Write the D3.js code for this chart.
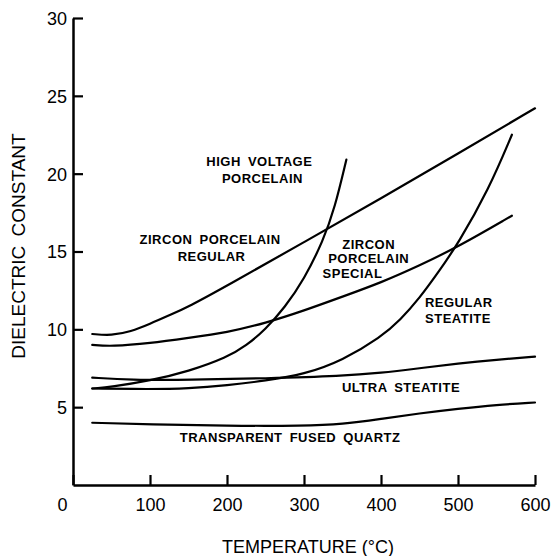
<!DOCTYPE html>
<html>
<head>
<meta charset="utf-8">
<script src="https://cdn.jsdelivr.net/npm/d3@7"></script>
<style>
  body { margin: 0; background: #fff; }
  svg { display: block; }
</style>
</head>
<body>
<svg id="chart" width="554" height="556"></svg>
<script>
// ---- data (temperature °C, dielectric constant) ----
const zirconRegular = [[25,9.7],[50,9.6],[75,9.85],[100,10.35],[125,10.9],[150,11.45],[200,12.8],[300,15.6],[400,18.4],[500,21.3],[600,24.2]];
const zirconSpecial = [[25,9.0],[50,8.9],[100,9.1],[150,9.45],[200,9.8],[250,10.4],[300,11.2],[350,12.1],[400,13.0],[450,14.1],[500,15.3],[570,17.3]];
const highVoltage   = [[25,6.2],[50,6.3],[100,6.7],[150,7.3],[200,8.2],[225,8.95],[250,10.0],[275,11.4],[300,13.2],[325,15.7],[340,17.8],[355,20.9]];
const regularSteatite = [[25,6.2],[100,6.15],[150,6.2],[200,6.4],[250,6.7],[300,7.1],[350,8.0],[400,9.5],[425,10.6],[450,12.0],[475,13.7],[500,15.5],[540,19.0],[570,22.5]];
const ultraSteatite = [[25,6.9],[75,6.75],[150,6.75],[250,6.85],[350,7.0],[400,7.2],[450,7.5],[500,7.8],[550,8.05],[600,8.25]];
const fusedQuartz   = [[25,4.0],[100,3.9],[200,3.8],[300,3.8],[350,3.9],[400,4.25],[450,4.6],[500,4.9],[550,5.15],[600,5.3]];
const seriesList = [zirconRegular, zirconSpecial, highVoltage, regularSteatite, ultraSteatite, fusedQuartz];

const xTicks = [0,100,200,300,400,500,600];
const yTicks = [5,10,15,20,25,30];
const xTitle = "TEMPERATURE (°C)";
const yTitle = "DIELECTRIC CONSTANT";

// curve labels: text and anchor in data coordinates
const labelTexts = ["HIGH VOLTAGE","PORCELAIN","ZIRCON PORCELAIN","REGULAR","ZIRCON","PORCELAIN","SPECIAL","REGULAR","STEATITE","ULTRA STEATITE","TRANSPARENT FUSED QUARTZ"];
const labelT = [242,246,178,180,384,384,363,501,500,426,282];
const labelV = [20.49,19.4,15.48,14.39,15.16,14.26,13.3,11.43,10.4,5.97,2.76];

// ---- drawing ----
const svg = d3.select("#chart");
const x = d3.scaleLinear().domain([0,600]).range([73,535]);
const y = d3.scaleLinear().domain([0,30]).range([485,18]);

const line = d3.line().x(d => x(d[0])).y(d => y(d[1])).curve(d3.curveBasis);

svg.append("g").selectAll("path").data(seriesList).join("path")
  .attr("d", line)
  .attr("fill","none")
  .attr("stroke","#000")
  .attr("stroke-width",2.2)
  .attr("stroke-linecap","round");

// axes
const gx = svg.append("g").attr("transform",`translate(0,${y(0)})`)
  .call(d3.axisBottom(x).tickValues(xTicks).tickFormat(d3.format("d")).tickSizeInner(-10).tickSizeOuter(0).tickPadding(13));
const gy = svg.append("g").attr("transform",`translate(${x(0)},0)`)
  .call(d3.axisLeft(y).tickValues(yTicks).tickFormat(d3.format("d")).tickSizeInner(-10).tickSizeOuter(0).tickPadding(6));

[gx, gy].forEach(g => {
  g.select(".domain").attr("stroke","#000").attr("stroke-width",2.5);
  g.selectAll(".tick line").attr("stroke","#000").attr("stroke-width",2.2);
  g.selectAll(".tick text").attr("fill","#000")
    .style("font-family","'Liberation Sans', Arial, sans-serif").style("font-size","18px");
});
gx.selectAll(".tick text").filter(d => d === 0).attr("dx", -11);
gy.selectAll(".tick text").attr("dy","0.36em");

// axis titles
svg.append("text")
  .attr("x", 308).attr("y", 553)
  .attr("text-anchor","middle")
  .style("font-family","'Liberation Sans', Arial, sans-serif")
  .style("font-size","18px")
  .text(xTitle);

svg.append("text")
  .attr("transform", `translate(25,246) rotate(-90)`)
  .attr("text-anchor","middle")
  .style("font-family","'Liberation Sans', Arial, sans-serif")
  .style("font-size","19px")
  .style("word-spacing","4px")
  .text(yTitle);

// curve labels
svg.append("g").selectAll("text").data(labelTexts).join("text")
  .attr("x", (d,i) => x(labelT[i]))
  .attr("y", (d,i) => y(labelV[i]))
  .attr("text-anchor","middle")
  .style("font-family","'Liberation Sans', Arial, sans-serif")
  .style("font-weight","bold")
  .style("font-size","13px")
  .style("letter-spacing","0.5px")
  .style("word-spacing","3px")
  .text(d => d);
</script>
</body>
</html>
